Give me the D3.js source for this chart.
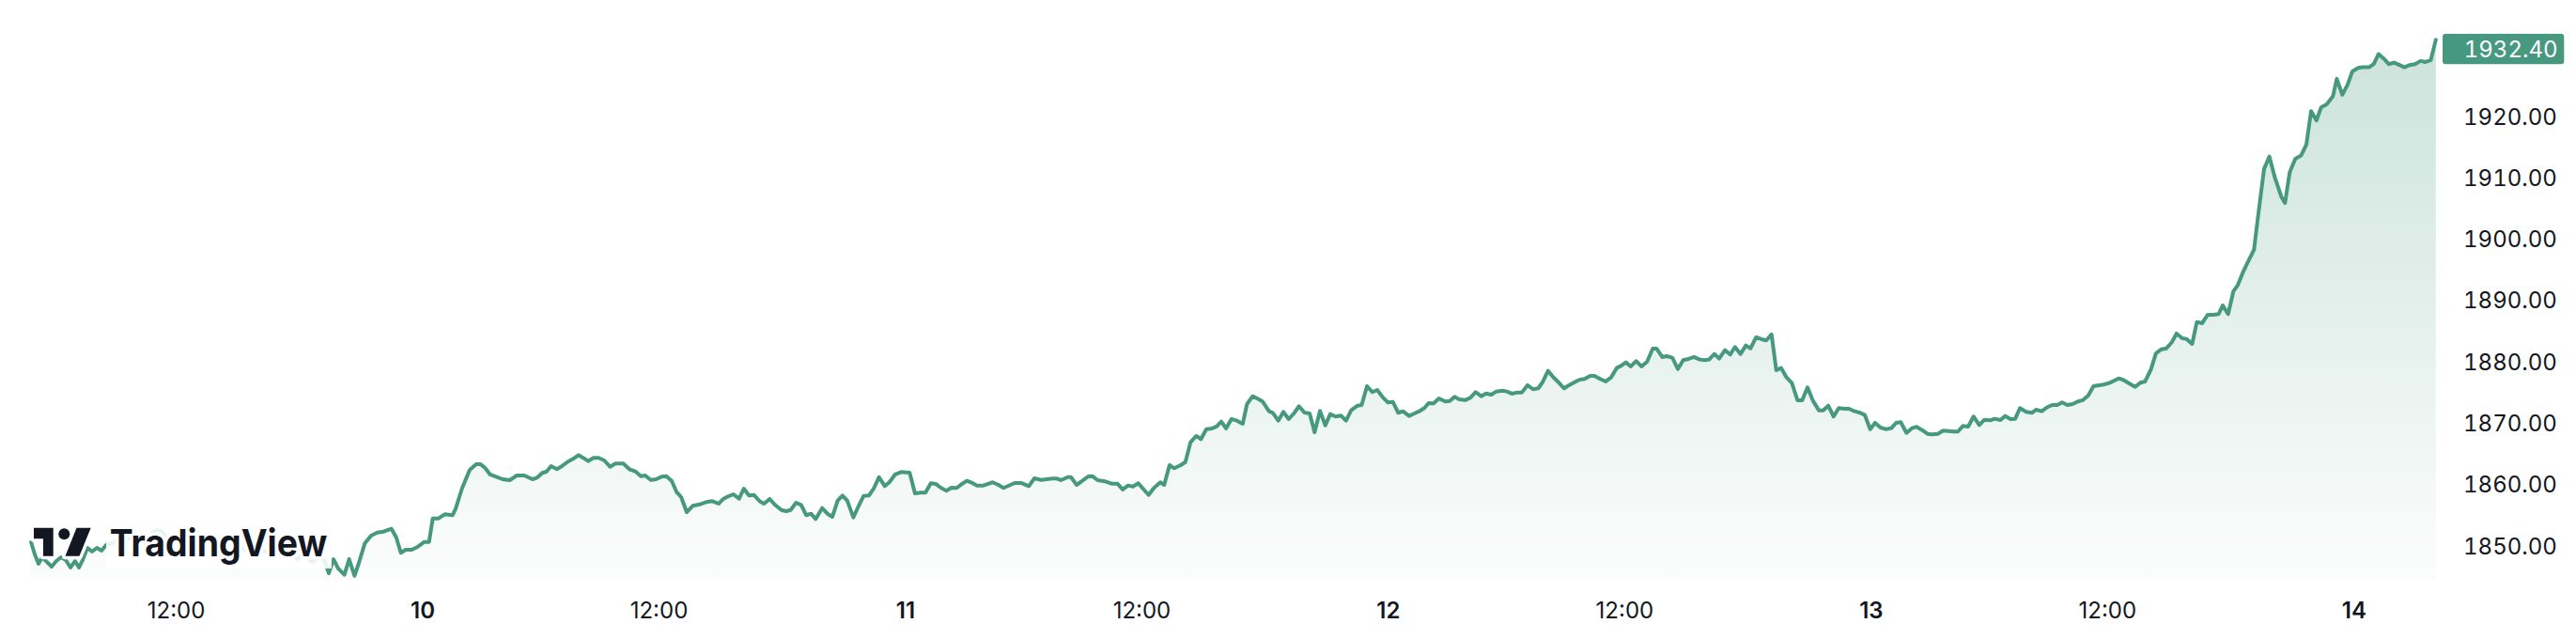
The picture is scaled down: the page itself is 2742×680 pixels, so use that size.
<!DOCTYPE html>
<html><head><meta charset="utf-8">
<script src="https://cdn.jsdelivr.net/npm/d3@7"></script>
<style>
html,body{margin:0;padding:0;background:#fff;}
svg{display:block;}
text{font-family:Inter,"Noto Sans",sans-serif;}
</style></head><body>
<svg id="chart" width="2742" height="680"></svg>
<script>
// time in trading hours from the start of day 10 (daily session break removed)
const hours = [
-19.04,-18.86,-18.68,-18.50,-18.27,-18.04,-17.81,-17.58,-17.35,-17.12,-16.90,-16.71,-16.53,-16.30,-16.07,-15.84,-15.61,-15.39,-15.07,-14.70,-14.38,-14.06,-13.69,-13.37,-13.10,-12.87,-12.64,-12.41,-12.19,-11.96,-11.64,-11.36,-11.09,-10.81,-10.49,-10.13,-9.76,-9.40,-9.03,-8.67,-8.30,-7.93,-7.57,-7.20,-6.84,-6.47,-6.10,-5.74,-5.37,-5.01,
-4.78,-4.55,-4.32,-4.09,-3.79,-3.56,-3.30,-3.10,-2.80,-2.49,-2.19,-1.88,-1.50,-1.27,-1.04,-0.81,-0.51,-0.21,0.10,0.33,0.51,0.79,1.09,1.47,1.62,1.93,2.31,2.62,2.84,3.07,3.30,3.60,3.91,
4.26,4.60,4.97,5.36,5.59,5.84,6.04,6.27,6.55,6.80,
7.11,7.34,7.60,7.87,8.07,8.33,8.59,8.86,9.14,9.40,
9.78,10.08,10.39,10.64,10.85,11.12,11.38,11.64,11.88,12.14,
12.37,12.60,12.87,13.16,13.51,13.82,14.12,14.43,14.65,14.88,
15.14,15.42,15.65,15.90,16.15,16.41,16.63,16.91,17.17,17.48,
17.70,17.93,18.19,18.44,18.69,18.92,19.15,19.46,19.72,19.96,
20.22,20.45,20.68,20.98,21.24,21.48,21.74,21.97,22.23,22.51,
22.73,23.01,23.31,23.72,23.98,24.26,24.49,24.75,24.99,25.25,
25.51,25.75,26.01,26.27,26.50,26.77,27.00,
27.31,27.76,28.04,28.29,28.83,29.14,29.52,29.79,30.12,30.66,
30.89,31.08,31.42,31.57,31.85,32.11,32.41,32.61,32.87,33.17,
33.55,33.83,34.09,34.35,34.59,34.85,35.08,35.35,35.61,35.92,
36.11,36.37,36.60,36.91,37.14,37.39,37.67,37.90,38.16,38.43,
38.66,38.89,39.12,39.38,39.65,39.93,40.14,40.41,40.64,40.90,
41.21,41.40,41.66,41.91,42.17,42.42,42.67,42.93,43.19,43.43,
43.69,43.95,44.19,44.45,44.71,44.96,45.21,45.52,45.72,45.98,
46.24,46.48,46.74,47.00,47.24,47.50,47.73,48.03,48.26,48.52,
48.77,48.98,49.22,49.48,49.79,50.01,50.24,50.47,50.78,
51.01,51.27,51.54,51.77,52.03,52.27,52.57,52.79,53.03,53.29,
53.52,53.79,54.06,54.31,54.51,54.79,55.04,55.32,55.58,55.81,
56.08,56.34,56.57,56.84,57.05,57.33,57.60,57.86,58.13,58.37,
58.58,58.82,59.08,59.34,59.61,59.89,60.07,60.35,60.56,60.84,
61.11,61.37,61.63,61.90,62.18,62.44,62.63,62.89,63.12,63.40,
63.66,63.89,64.16,64.42,64.65,64.92,65.18,65.41,65.67,65.90,
66.14,66.40,66.66,66.93,67.16,67.42,67.69,67.97,68.18,68.43,
68.69,68.94,69.22,69.44,69.71,69.98,70.21,70.47,70.71,70.97,
71.23,71.50,71.73,71.96,72.24,72.50,72.73,73.00,73.26,73.49,
73.76,74.02,
74.55,74.74,74.98,75.24,75.50,75.78,76.03,76.31,76.53,76.81,
77.04,77.30,77.53,77.76,78.06,78.34,78.55,78.82,79.09,79.35,
79.58,79.81,80.07,80.32,80.58,80.81,81.08,81.34,81.60,81.84,
82.10,82.36,82.56,82.79,83.09,83.37,83.62,83.85,84.13,84.38,
84.65,84.89,85.15,85.38,85.66,85.86,86.14,86.37,86.63,86.90,
87.17,87.43,87.63,87.89,88.15,88.35,88.61,88.88,89.15,89.37,
89.64,89.90,90.18,90.48,90.66,90.89,91.16,91.44,91.70,91.93,
92.19,92.42,92.69,92.99,93.18,93.45,93.71,93.94,94.22,94.44,
94.75,94.98,95.21,95.46,95.71,95.97,96.23,96.47,96.73,96.99,
97.26,97.49,97.75,98.00
];
const prices = [
1850.55,1848.56,1847.03,1848.10,1847.34,1846.57,1847.49,1848.10,1847.64,1846.42,1847.49,1846.42,1847.64,1849.63,1849.02,1849.63,1849.17,1850.09,1850.40,1851.32,1850.86,1851.62,1851.93,1851.32,1852.24,1852.54,1852.24,1851.01,1850.09,1850.70,1851.47,1852.24,1852.54,1851.93,1851.32,1851.62,1850.86,1851.32,1850.40,1849.33,1848.87,1849.63,1848.87,1848.25,1849.17,1848.56,1847.79,1848.56,1847.34,1848.10,
1847.79,1845.50,1847.79,1846.26,1845.24,1847.79,1845.08,1847.03,1850.35,1851.62,1852.13,1852.28,1852.74,1851.36,1848.82,1849.33,1849.33,1849.83,1850.60,1850.60,1854.43,1854.43,1855.10,1854.95,1855.96,1859.28,1862.34,1863.26,1863.26,1862.60,1861.58,1861.22,1860.81,
1860.66,1861.42,1861.42,1860.81,1861.07,1861.84,1862.04,1862.96,1862.45,1862.96,
1863.72,1864.13,1864.75,1864.23,1863.77,1864.29,1864.29,1863.87,1862.85,1863.37,
1863.37,1862.45,1862.04,1861.32,1861.42,1860.70,1860.81,1861.22,1861.32,1860.55,
1858.77,1857.90,1855.45,1856.48,1856.72,1857.09,1857.24,1856.83,1857.60,1858.01,
1858.36,1857.64,1859.28,1858.16,1858.25,1857.24,1856.83,1857.60,1856.63,1855.80,
1855.60,1855.80,1856.98,1856.63,1854.95,1855.19,1854.33,1856.11,1855.19,1854.69,
1857.34,1858.16,1857.34,1854.58,1856.48,1858.10,1858.16,1859.28,1861.16,1859.69,
1860.31,1861.58,1861.99,1861.88,1858.51,1858.62,1858.62,1860.15,1860.05,1859.39,
1858.93,1859.43,1859.39,1860.05,1860.55,1860.20,1859.79,
1859.79,1860.31,1859.89,1859.39,1860.20,1860.20,1859.69,1860.96,1860.70,1860.92,
1860.92,1860.66,1861.16,1861.16,1859.89,1860.51,1861.27,1861.32,1860.66,1860.51,
1860.09,1860.09,1859.13,1859.79,1859.63,1860.15,1859.28,1858.25,1859.39,1860.31,
1859.89,1863.11,1862.60,1863.11,1863.61,1866.83,1867.86,1867.35,1868.97,1869.08,
1869.39,1870.20,1869.08,1870.61,1870.35,1869.85,1873.06,1874.33,1873.98,1873.48,
1871.88,1871.64,1870.35,1871.79,1870.61,1871.53,1872.71,1871.68,1871.53,1868.47,
1871.94,1869.59,1871.42,1871.03,1871.18,1870.35,1872.04,1872.80,1872.91,1875.97,
1875.01,1875.36,1874.18,1873.32,1873.41,1871.64,1871.88,1871.12,1871.49,1871.88,
1872.40,1873.22,1873.17,1873.98,1873.48,1873.57,1874.24,1873.83,1873.72,
1874.09,1875.01,1874.33,1874.79,1874.59,1875.10,1875.25,1875.10,1874.75,1874.95,
1874.95,1876.13,1875.47,1875.62,1876.54,1878.47,1877.46,1876.54,1875.62,1876.13,
1876.63,1877.04,1877.15,1877.66,1877.66,1877.15,1876.74,1877.40,1878.93,1879.34,
1879.85,1879.19,1880.06,1879.19,1879.95,1882.10,1882.10,1880.72,1880.87,1880.61,
1878.77,1880.21,1880.41,1880.72,1880.31,1880.21,1880.31,1881.22,1880.46,1881.84,
1881.13,1882.36,1881.22,1882.60,1882.14,1883.94,1883.63,1883.43,1884.40,1878.58,
1878.93,1877.40,1876.48,1873.68,1873.68,1875.77,1873.57,1872.04,1872.04,1872.80,
1871.03,1872.40,1872.30,1872.30,1871.88,1871.64,1871.27,1868.97,1870.00,1869.23,
1868.97,1869.13,1870.00,1870.11,1868.36,1869.13,1869.34,1868.82,1868.21,1868.12,
1868.21,1868.73,
1868.58,1868.58,1869.49,1869.39,1871.03,1869.65,1870.50,1870.41,1870.66,1870.46,
1871.12,1870.61,1870.66,1872.40,1871.79,1871.64,1872.14,1871.88,1872.56,1872.91,
1872.91,1873.32,1872.91,1873.06,1873.48,1873.68,1874.44,1875.97,1876.13,1876.23,
1876.48,1876.89,1877.24,1877.00,1876.39,1875.87,1876.54,1876.74,1878.68,1881.33,
1881.99,1882.14,1883.12,1884.55,1883.78,1883.68,1882.86,1886.43,1886.23,1887.61,
1887.61,1887.72,1889.14,1887.72,1891.44,1892.36,1894.50,1896.39,1898.18,1904.20,
1911.35,1913.38,1909.82,1906.86,1905.83,1910.84,1913.03,1913.54,1915.33,1920.80,
1919.26,1921.41,1921.91,1923.19,1926.05,1923.45,1925.13,1927.27,1927.84,1927.93,
1927.93,1928.45,1930.07,1929.37,1928.45,1928.70,1928.30,1927.93,1928.30,1928.45,
1928.96,1928.80,1929.07,1932.40
];
const priceTicks = [1850, 1860, 1870, 1880, 1890, 1900, 1910, 1920];
const timeTicks = [-12, 0, 11.5, 23.5, 35, 47, 58.5, 70.5, 82, 94];
const timeTickLabels = ["12:00", "10", "12:00", "11", "12:00", "12", "12:00", "13", "12:00", "14"];
const lastPrice = 1932.40;

if (hours.length !== prices.length) console.error("length mismatch", hours.length, prices.length);
const data = hours.map((t, i) => ({t: t, v: prices[i]}));

const svg = d3.select("#chart");
const green = "#46997f";
const ink = "#131722";
const plotBottom = 617;

const x = d3.scaleLinear().domain([0, 94]).range([449.5, 2505.3]);
const y = d3.scaleLinear().domain([1850, 1920]).range([580.6, 123.4]);

const defs = svg.append("defs");
const grad = defs.append("linearGradient").attr("id", "areaFill")
  .attr("gradientUnits", "userSpaceOnUse")
  .attr("x1", 0).attr("x2", 0).attr("y1", y(lastPrice)).attr("y2", plotBottom);
grad.append("stop").attr("offset", 0).attr("stop-color", green).attr("stop-opacity", 0.28);
grad.append("stop").attr("offset", 1).attr("stop-color", green).attr("stop-opacity", 0.02);

const area = d3.area().x(d => x(d.t)).y0(plotBottom).y1(d => y(d.v));
const line = d3.line().x(d => x(d.t)).y(d => y(d.v));

svg.append("path").datum(data).attr("d", area).attr("fill", "url(#areaFill)");
svg.append("path").datum(data).attr("d", line)
  .attr("fill", "none").attr("stroke", green).attr("stroke-width", 4)
  .attr("stroke-linejoin", "round").attr("stroke-linecap", "round");

// Y axis (right)
const yAxis = svg.append("g").attr("transform", "translate(2622,0)")
  .call(d3.axisRight(y).tickValues(priceTicks).tickFormat(d3.format(".2f")).tickSize(0).tickPadding(0));
yAxis.select(".domain").remove();
yAxis.selectAll("text").attr("font-size", 24).attr("fill", ink).attr("dy", "0.36em")
  .style("font-family", "Inter, 'Noto Sans', sans-serif").style("font-variant-numeric", "tabular-nums");

// last price label
const labelY = Math.max(y(lastPrice), 52.2);
svg.append("rect").attr("x", 2600).attr("y", labelY - 16.2).attr("width", 129.3).attr("height", 32.3)
  .attr("rx", 3).attr("fill", green);
svg.append("text").attr("x", 2622.7).attr("y", labelY).attr("dy", "0.36em")
  .attr("font-size", 24).attr("fill", "#fff").style("font-variant-numeric", "tabular-nums")
  .text(d3.format(".2f")(lastPrice));

// X axis
const xAxis = svg.append("g").attr("transform", "translate(0,638)")
  .call(d3.axisBottom(x).tickValues(timeTicks).tickFormat((d, i) => timeTickLabels[i]).tickSize(0).tickPadding(3));
xAxis.select(".domain").remove();
xAxis.selectAll("text").attr("font-size", 24).attr("fill", ink)
  .style("font-family", "Inter, 'Noto Sans', sans-serif")
  .attr("font-weight", (d, i) => timeTickLabels[i].includes(":") ? 400 : 600);

// TradingView watermark
svg.append("rect").attr("x", 113).attr("y", 557).attr("width", 240).attr("height", 48)
  .attr("fill", "#fff").attr("fill-opacity", 0.88);
const logo = svg.append("g").attr("fill", ink).attr("stroke", "#fff").attr("stroke-width", 7)
  .attr("stroke-linejoin", "round").style("paint-order", "stroke");
logo.append("path").attr("d", "M36,561.7H56.7V591.7H46V573.3H36Z");
logo.append("circle").attr("cx", 68.3).attr("cy", 568.3).attr("r", 6);
logo.append("path").attr("d", "M81.5,561.7H96.7L84.5,591.7H69.5Z");
logo.append("text").attr("x", 116.7).attr("y", 591.7).attr("font-size", 40).attr("font-weight", 700)
  .attr("textLength", 231.6).attr("lengthAdjust", "spacingAndGlyphs").text("TradingView");
</script>
</body></html>
